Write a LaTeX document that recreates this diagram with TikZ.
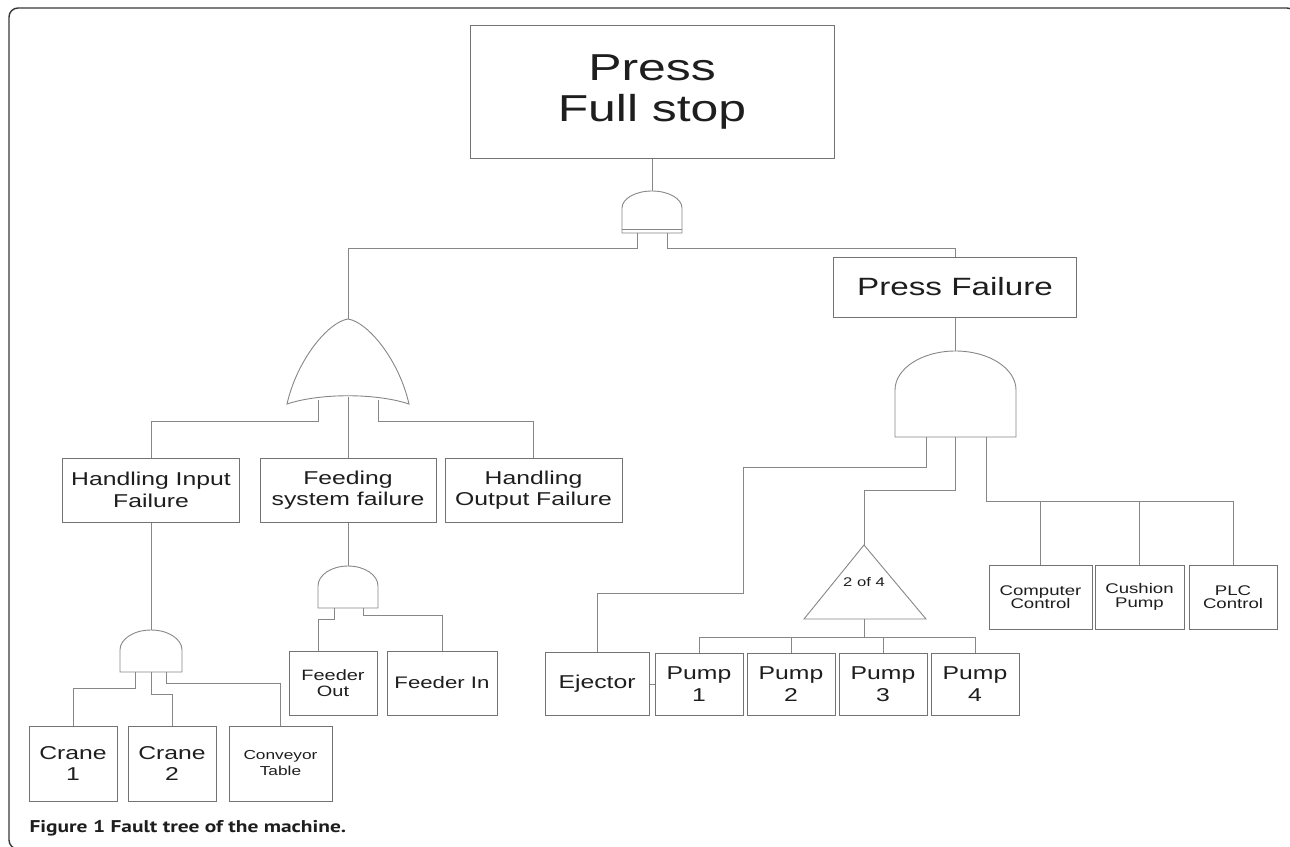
\documentclass[tikz,border=0pt]{standalone}
\usepackage{fontspec}
\setmainfont{Liberation Sans}
\newfontfamily\treefont[FakeStretch=1.33]{Liberation Sans}
\newfontfamily\capfont[FakeStretch=1.26]{PT Sans}
\usetikzlibrary{positioning}
\definecolor{linegray}{RGB}{135,135,135}
\definecolor{boxgray}{RGB}{115,115,115}
\definecolor{txt}{RGB}{30,30,30}
\definecolor{framecol}{RGB}{55,55,55}

\begin{document}
\begin{tikzpicture}[x=1pt,y=-1pt,
  box/.style={draw=boxgray, line width=1pt, fill=white, inner sep=0pt, align=center, text=txt},
  wire/.style={draw=linegray, line width=0.9pt},
  gate/.style={draw=linegray, line width=0.9pt, fill=white},
  lbl/.style={font=\treefont\fontsize{18.6}{21.5}\selectfont},
  lblsm/.style={font=\treefont\fontsize{14}{13.5}\selectfont}]
  \useasboundingbox (0,0) rectangle (1290,846);
  \clip (0,0) rectangle (1290,846);
  \draw[framecol, line width=1.4pt, rounded corners=9pt] (9,8) rectangle (1296,849);

  % events
  \node[box, minimum width=364pt, minimum height=133pt, font=\treefont\fontsize{37.5}{41}\selectfont] (top) at (652,91.5) {Press\\Full stop};
  \node[box, minimum width=243pt, minimum height=60pt, font=\treefont\fontsize{25}{28}\selectfont] (pf) at (955,287) {Press Failure};
  \node[box, lbl, minimum width=177pt, minimum height=64pt] (hin) at (151,490) {Handling Input\\Failure};
  \node[box, lbl, minimum width=176pt, minimum height=64pt] (feed) at (348,490) {Feeding\\system failure};
  \node[box, lbl, minimum width=177pt, minimum height=64pt] (hout) at (533.5,490) {Handling\\Output Failure};

  % basic events, left
  \node[box, lbl, minimum width=88pt, minimum height=75pt] (cr1) at (73,763.5) {Crane\\1};
  \node[box, lbl, minimum width=88pt, minimum height=75pt] (cr2) at (172,763.5) {Crane\\2};
  \node[box, minimum width=103pt, minimum height=75pt, font=\treefont\fontsize{13}{16}\selectfont] (conv) at (280.5,763.5) {Conveyor\\Table};
  \node[box, minimum width=88pt, minimum height=64pt, font=\treefont\fontsize{15}{16}\selectfont] (fout) at (333,683) {Feeder\\Out};
  \node[box, minimum width=110pt, minimum height=64pt, font=\treefont\fontsize{16.7}{18}\selectfont] (fin) at (442,683) {Feeder In};

  % basic events, right
  \node[box, lbl, minimum width=104pt, minimum height=63pt] (ej) at (597,684) {Ejector};
  \node[box, lbl, minimum width=88pt, minimum height=62pt] (p1) at (699,684) {Pump\\1};
  \node[box, lbl, minimum width=88pt, minimum height=62pt, right=3pt of p1] (p2) {Pump\\2};
  \node[box, lbl, minimum width=88pt, minimum height=62pt, right=3pt of p2] (p3) {Pump\\3};
  \node[box, lbl, minimum width=88pt, minimum height=62pt, right=3pt of p3] (p4) {Pump\\4};
  \node[box, lblsm, minimum width=103pt, minimum height=64pt] (cc) at (1040.5,597) {Computer\\Control};
  \node[box, lblsm, minimum width=89pt, minimum height=64pt, right=2pt of cc] (cp) {Cushion\\Pump};
  \node[box, lblsm, minimum width=88pt, minimum height=64pt, right=4pt of cp] (plc) {PLC\\Control};

  % gates
  \draw[gate] (622,233) -- (622,208) arc[start angle=180, end angle=0, x radius=30pt, y radius=17pt] -- (682,233) -- cycle;
  \draw[linegray, line width=0.9pt] (622,229) -- (682,229);
  \draw[gate] (287,404) .. controls (297,360) and (328,322) .. (348,319) .. controls (368,322) and (399,360) .. (409,404) .. controls (376,393) and (320,393) .. (287,404) -- cycle;
  \draw[gate] (895,437) -- (895,390) arc[start angle=180, end angle=0, x radius=60.5pt, y radius=39pt] -- (1016,437) -- cycle;
  \draw[gate] (120,672) -- (120,650) arc[start angle=180, end angle=0, x radius=31pt, y radius=20pt] -- (182,672) -- cycle;
  \draw[gate] (318,608) -- (318,586) arc[start angle=180, end angle=0, x radius=30pt, y radius=20pt] -- (378,608) -- cycle;
  \draw[gate] (864,545) -- (926,619) -- (804,619) -- cycle;
  \node[text=txt, font=\treefont\fontsize{12.5}{13}\selectfont] (vote) at (864,582) {2 of 4};

  \coordinate (g0in) at (652,191);
  \coordinate (g0a) at (637,233);
  \coordinate (g0b) at (667,233);
  \coordinate (orin) at (348,319);
  \coordinate (ora) at (318,400);
  \coordinate (orb) at (348,397);
  \coordinate (orc) at (378,400);
  \coordinate (g1in) at (955,351);
  \coordinate (g1a) at (926,437);
  \coordinate (g1b) at (955,437);
  \coordinate (g1c) at (986,437);
  \coordinate (g2in) at (151,630);
  \coordinate (g2a) at (135,672);
  \coordinate (g2b) at (151,672);
  \coordinate (g2c) at (166,672);
  \coordinate (g3in) at (348,566);
  \coordinate (g3a) at (334,608);
  \coordinate (g3b) at (363,608);
  \coordinate (vin) at (864,545);
  \coordinate (vout) at (864,619);
  \coordinate (ejbend) at (743,593);

  %top>gates
  \draw[wire] (top.south) -- (g0in);
  \draw[wire] (g0a) -- ++(0,15) -| (orin);
  \draw[wire] (g0b) -- ++(0,15) -| (pf.north);

  %or>inputs
  \draw[wire] (ora) -- ++(0,21) -| (hin.north);
  \draw[wire] (orb) -- (feed.north);
  \draw[wire] (orc) -- ++(0,21) -| (hout.north);

  %handling input
  \draw[wire] (hin.south) -- (g2in);
  \draw[wire] (g2a) -- ++(0,16) -| (cr1.north);
  \draw[wire] (g2b) -- ++(0,22) -| (cr2.north);
  \draw[wire] (g2c) -- ++(0,11) -| (conv.north);

  %feeding
  \draw[wire] (feed.south) -- (g3in);
  \draw[wire] (g3a) -- ++(0,11) -| ([xshift=-15pt]fout.north);
  \draw[wire] (g3b) -- ++(0,7) -| (fin.north);

  %press failure
  \draw[wire] (pf.south) -- (g1in);
  \draw[wire] (g1a) -- ++(0,30) -| (ejbend) -| (ej.north);
  \draw[wire] (g1b) -- ++(0,53) -| (vin);
  \foreach \b in {cc,cp,plc}
    \draw[wire] (g1c) -- ++(0,64) -| (\b.north);

  %2 of 4
  \foreach \p in {p1,p2,p3,p4}
    \draw[wire] (vout) -- ++(0,18) -| (\p.north);
  \draw[wire] (ej.east) -- (p1.west);

  \node[anchor=base west, text=txt, font=\capfont\bfseries\fontsize{17}{17}\selectfont] (cap) at (26,832) {Figure 1 Fault tree of the machine.};
\end{tikzpicture}
\end{document}
